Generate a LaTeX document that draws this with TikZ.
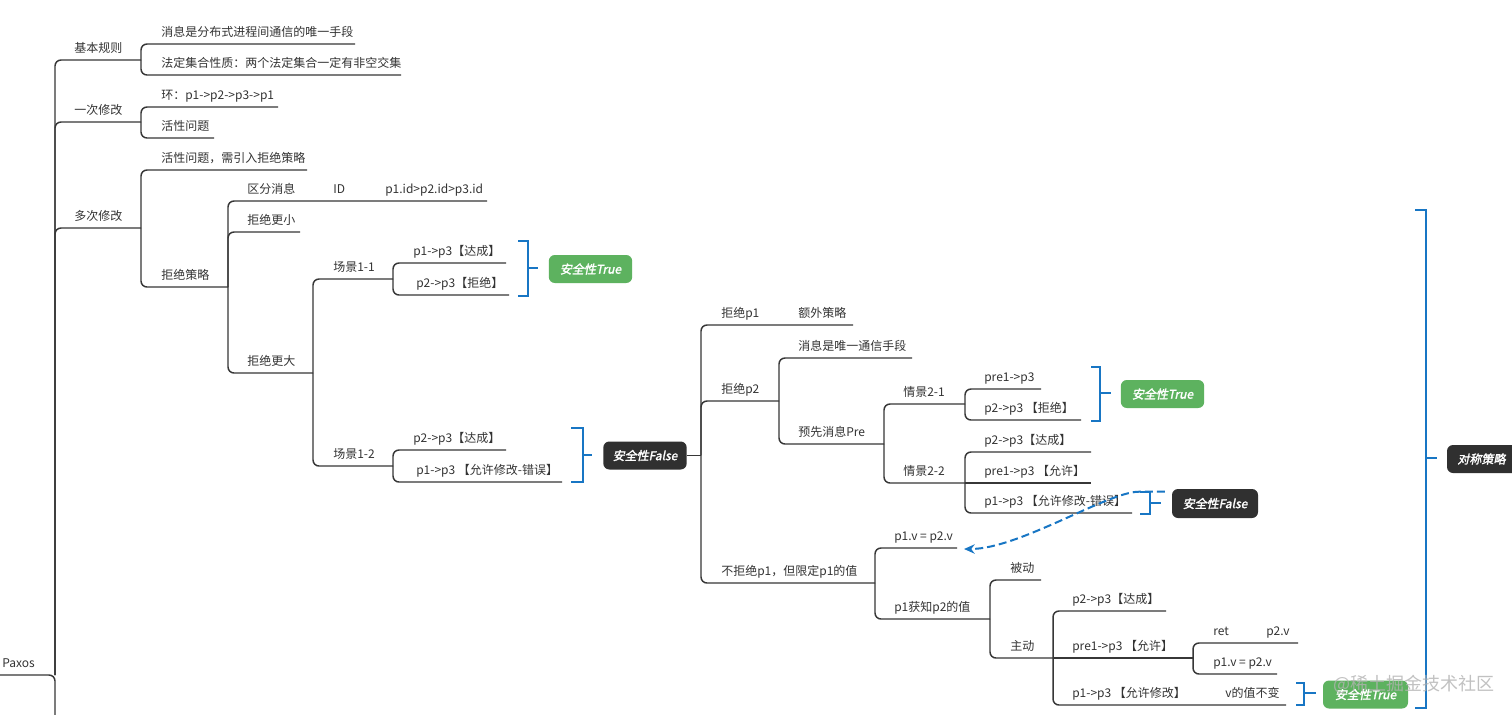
\documentclass[tikz,border=0pt]{standalone}
\usepackage{fontspec}
\setmainfont{Noto Sans CJK SC}
\newfontfamily\badgefont[FakeSlant=0.2,FakeBold=2]{Noto Sans CJK SC}
\usetikzlibrary{arrows.meta,calc}
\definecolor{txt}{RGB}{51,51,51}
\definecolor{lnc}{RGB}{55,55,55}
\definecolor{blu}{RGB}{24,118,196}
\definecolor{grn}{RGB}{93,178,95}
\definecolor{drk}{RGB}{48,48,48}
\newcommand\mmitem[6]{%
  \coordinate (#1L) at (#2,#3);
  \coordinate (#1R) at (#4,#3);
  \node[tx] (#1) at (#5,#3-7.5) {#6};}
\newcommand\mmbranch[2]{\draw[ln] (#1R) -- (#2L) -- (#2R);}
\newcommand\mmstraight[2]{\draw[ln] (#1R) -- (#2R);}
\newcommand\mmbracket[6]{%
  \draw[br] (#1,#3) -- (#2,#3) -- (#2,#4) -- (#1,#4);
  \draw[br] (#2,#5) -- (#6,#5);}
\begin{document}
\begin{tikzpicture}[x=0.75pt,y=-0.75pt,
  tx/.style={anchor=base west,inner sep=0pt,text=txt,font=\fontsize{9pt}{10pt}\selectfont},
  ln/.style={draw=lnc,line width=1.1pt,rounded corners=4.5pt},
  br/.style={draw=blu,line width=1.9pt},
  badge/.style={rounded corners=4.5pt,text=white,inner sep=0pt,minimum width=62.5pt,minimum height=21pt,font=\badgefont\fontsize{9pt}{10pt}\selectfont},
  gb/.style={badge,fill=grn},
  db/.style={badge,fill=drk},
  dashlink/.style={draw=blu,line width=1.5pt,dash pattern=on 6pt off 3pt,-{Stealth[length=8pt,width=7pt]}}
]
\fill[white] (0,0) rectangle (1512,714);
\useasboundingbox (0,0) rectangle (1512,714);

% root
\mmitem{root}{0}{675}{55}{2}{Paxos}
\coordinate (cut) at (55,740);
\draw[ln] (rootL) -- (rootR) -- (cut);

% level 1
\mmitem{a1}{55}{60}{141}{74}{基本规则}
\mmitem{a2}{55}{122}{141}{74}{一次修改}
\mmitem{a3}{55}{228}{141}{74}{多次修改}
\mmbranch{root}{a1}\mmbranch{root}{a2}\mmbranch{root}{a3}

% level 2
\mmitem{b1}{141}{44}{355}{161}{消息是分布式进程间通信的唯一手段}
\mmitem{b2}{141}{75}{401}{161}{法定集合性质：两个法定集合一定有非空交集}
\mmbranch{a1}{b1}\mmbranch{a1}{b2}
\mmitem{b3}{141}{107}{278}{161}{环：p1->p2->p3->p1}
\mmitem{b4}{141}{138}{214}{161}{活性问题}
\mmbranch{a2}{b3}\mmbranch{a2}{b4}
\mmitem{b5}{141}{170}{307}{161}{活性问题，需引入拒绝策略}
\mmitem{b6}{141}{287}{228}{161}{拒绝策略}
\mmbranch{a3}{b5}\mmbranch{a3}{b6}

% under 拒绝策略
\mmitem{c1}{228}{201}{487}{247}{区分消息}
\node[tx] (c1b) at (333,201-7.5) {ID};
\node[tx] (c1c) at (385,201-7.5) {p1.id>p2.id>p3.id};
\mmitem{c2}{228}{232}{300}{247}{拒绝更小}
\mmitem{c3}{228}{373}{313}{247}{拒绝更大}
\mmbranch{b6}{c1}\mmbranch{b6}{c2}\mmbranch{b6}{c3}

% under 拒绝更大
\mmitem{d1}{313}{279}{393}{333}{场景1-1}
\mmitem{d2}{313}{466}{393}{333}{场景1-2}
\mmbranch{c3}{d1}\mmbranch{c3}{d2}

\mmitem{e1}{393}{263}{506}{413}{p1->p3【达成】}
\mmitem{e2}{393}{295}{509}{416}{p2->p3【拒绝】}
\mmbranch{d1}{e1}\mmbranch{d1}{e2}
\mmbracket{518}{528}{241}{296}{268}{538}
\node[gb] (g1) at (590.5,269) {安全性True};

\mmitem{e3}{393}{450}{506}{413}{p2->p3【达成】}
\mmitem{e4}{393}{482}{562}{416}{p1->p3 【允许修改-错误】}
\mmbranch{d2}{e3}\mmbranch{d2}{e4}
\mmbracket{571}{583}{428}{482}{455}{592}
\node[db] (k1) at (645,455.5) {安全性False};
\coordinate (k1R) at (701,455.5);
\draw[ln] (k1.east) -- (k1R);

% under 安全性False
\mmitem{f1}{701}{325}{853}{721}{拒绝p1}
\node[tx] (f1b) at (798,325-7.5) {额外策略};
\mmitem{f2}{701}{401}{779}{721}{拒绝p2}
\mmitem{f3}{701}{583}{875}{721}{不拒绝p1，但限定p1的值}
\mmbranch{k1}{f1}\mmbranch{k1}{f2}\mmbranch{k1}{f3}

% under 拒绝p2
\mmitem{h1}{779}{358}{912}{798}{消息是唯一通信手段}
\mmitem{h2}{779}{444}{884}{798}{预先消息Pre}
\mmbranch{f2}{h1}\mmbranch{f2}{h2}

\mmitem{i1}{884}{404}{965}{903}{情景2-1}
\mmitem{i2}{884}{483}{965}{903}{情景2-2}
\mmbranch{h2}{i1}\mmbranch{h2}{i2}

\mmitem{j1}{965}{389}{1041}{984}{pre1->p3}
\mmitem{j2}{965}{420}{1081}{984}{p2->p3 【拒绝】}
\mmbranch{i1}{j1}\mmbranch{i1}{j2}
\mmbracket{1091}{1100}{367}{421}{393}{1111}
\node[gb] (g2) at (1162.5,394) {安全性True};

\mmitem{j3}{965}{452}{1091}{984}{p2->p3【达成】}
\mmitem{j4}{965}{483}{1091}{984}{pre1->p3 【允许】}
\mmitem{j5}{965}{513}{1132}{984}{p1->p3 【允许修改-错误】}
\mmbranch{i2}{j3}\mmstraight{i2}{j4}\mmbranch{i2}{j5}
\mmbracket{1140}{1150}{492}{514}{503}{1161}
\node[db,minimum width=64.5pt,minimum height=21.75pt] (k2) at (1215,503.5) {安全性False};

% under 不拒绝p1
\mmitem{l1}{875}{548}{957}{894}{p1.v = p2.v}
\mmitem{l2}{875}{619}{990}{894}{p1获知p2的值}
\mmbranch{f3}{l1}\mmbranch{f3}{l2}

\mmitem{m1}{990}{580}{1041}{1010}{被动}
\mmitem{m2}{990}{658}{1053}{1010}{主动}
\mmbranch{l2}{m1}\mmbranch{l2}{m2}

\mmitem{n1}{1053}{611}{1166}{1072}{p2->p3【达成】}
\mmitem{n2}{1053}{658}{1193}{1072}{pre1->p3 【允许】}
\mmitem{n3}{1053}{705}{1286}{1072}{p1->p3 【允许修改】}
\node[tx] (n3b) at (1225,705-7.5) {v的值不变};
\mmbranch{m2}{n1}\mmstraight{m2}{n2}\mmbranch{m2}{n3}

\mmitem{o1}{1193}{643}{1298}{1213}{ret}
\node[tx] (o1b) at (1266,643-7.5) {p2.v};
\mmitem{o2}{1193}{674}{1277}{1213}{p1.v = p2.v}
\mmbranch{n2}{o1}\mmbranch{n2}{o2}

\mmbracket{1296}{1304}{683}{705}{693}{1316}
\node[gb,minimum width=63.75pt] (g3) at (1365.5,694.5) {安全性True};

% dashed link
\draw[dashlink] ([shift={(-7,3)}]k2.north west) -- ++(-26,0)
  .. controls +(-31,0) and +(55,0) .. ([shift={(7,1)}]l1R);

% big bracket
\mmbracket{1415}{1426}{210}{708}{458}{1437}
\node[db,minimum width=54.75pt,minimum height=21pt] (k3) at (1483.5,459) {\hspace*{-3pt}对称策略};

% watermark
\node[anchor=base west,inner sep=0pt,text=gray!60,opacity=0.8,font=\fontsize{13.5pt}{15pt}\selectfont] (wm) at (1333,690) {@稀土掘金技术社区};
\end{tikzpicture}
\end{document}
